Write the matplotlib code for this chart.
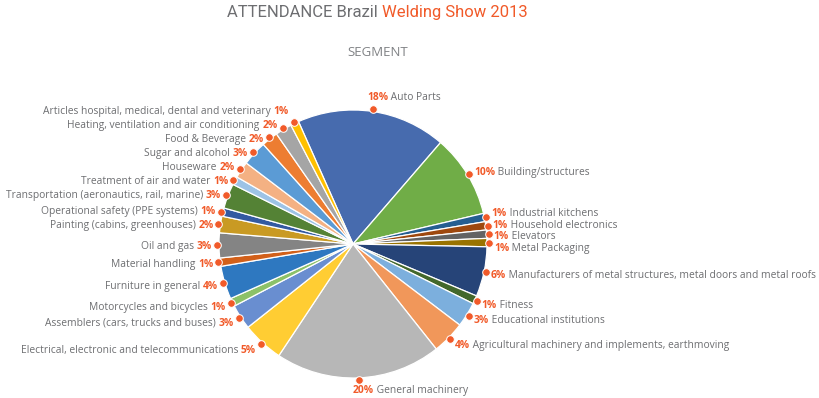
import numpy as np
import matplotlib
matplotlib.use("Agg")
import matplotlib.pyplot as plt

# Data (clockwise from the top)
segments = ["Auto Parts", "Building/structures", "Industrial kitchens", "Household electronics",
            "Elevators", "Metal Packaging",
            "Manufacturers of metal structures, metal doors and metal roofs", "Fitness",
            "Educational institutions", "Agricultural machinery and implements, earthmoving",
            "General machinery", "Electrical, electronic and telecommunications",
            "Assemblers (cars, trucks and buses)", "Motorcycles and bicycles",
            "Furniture in general", "Material handling", "Oil and gas",
            "Painting (cabins, greenhouses)", "Operational safety (PPE systems)",
            "Transportation (aeronautics, rail, marine)", "Treatment of air and water",
            "Houseware", "Sugar and alcohol", "Food & Beverage",
            "Heating, ventilation and air conditioning",
            "Articles hospital, medical, dental and veterinary"]
shares = [18, 10, 1, 1, 1, 1, 6, 1, 3, 4, 20, 5, 3, 1, 4, 1, 3, 2, 1, 3, 1, 2, 3, 2, 2, 1]
colors = ["#476BAE", "#70AD47", "#255E91", "#9E480E", "#636363", "#997300",
          "#264478", "#43682B", "#7CAFDD", "#F1975A", "#B7B7B7", "#FFCD33",
          "#698ED0", "#8CC168", "#2E78C0", "#D2601A", "#848484", "#C99A23",
          "#335AA1", "#548235", "#9DC3E6", "#F4B183", "#5B9BD5", "#ED7D31",
          "#A5A5A5", "#FFC000"]

title_gray = "ATTENDANCE Brazil "
title_orange = "Welding Show 2013"
subtitle = "SEGMENT"

GRAY = "#6D6E71"
ORANGE = "#F15A29"
LABEL_FONT = ["Open Sans", "DejaVu Sans"]
TITLE_FONT = ["Roboto", "DejaVu Sans"]

W, H = 820, 398
fig = plt.figure(figsize=(8.2, 3.98), dpi=100)
ax = fig.add_axes([0, 0, 1, 1])
cx, cy, R = 353, H - 244, 134

wedges, _ = ax.pie(shares, colors=colors, startangle=114, counterclock=False,
                   radius=R, center=(cx, cy),
                   wedgeprops=dict(edgecolor="white", linewidth=0.9))
ax.set_xlim(0, W)
ax.set_ylim(0, H)
ax.set_aspect("equal")
ax.axis("off")


def spread(vals, gap):
    # push overlapping labels apart, keeping each cluster centred on its targets
    blocks = []
    for v in vals:
        blocks.append([v])
        while len(blocks) > 1:
            a, b = blocks[-2], blocks[-1]
            pa = np.mean([t - i * gap for i, t in enumerate(a)])
            pb = np.mean([t - i * gap for i, t in enumerate(b)])
            if pa + gap * len(a) > pb:
                blocks[-2] = a + b
                blocks.pop()
            else:
                break
    out = []
    for blk in blocks:
        p = np.mean([t - i * gap for i, t in enumerate(blk)])
        out += [p + i * gap for i in range(len(blk))]
    return out


# dot positions and label targets
info = []
for i, w in enumerate(wedges):
    mid = np.deg2rad((w.theta1 + w.theta2) / 2)
    dx, dy = cx + (R + 2) * np.cos(mid), cy + (R + 2) * np.sin(mid)
    ax.plot(dx, dy, "o", color=ORANGE, ms=5.5, mec="white", mew=0.7, zorder=5)
    info.append(dict(i=i, c=np.cos(mid), s=np.sin(mid), x=dx, y=dy))

right = sorted([d for d in info if d["c"] >= 0.3], key=lambda d: -d["y"])
left = sorted([d for d in info if d["c"] <= -0.3], key=lambda d: -d["y"])
for side, gap in ((right, 11.5), (left, 14)):
    targets = [H - (d["y"] + (4 if d["s"] > 0 else 7) * d["s"]) + 1.5 for d in side]
    for d, t in zip(side, spread(targets, gap)):
        d["ly"] = H - t

renderer = fig.canvas.get_renderer()


def label(d):
    pct = f"{shares[d['i']]}%"
    name = segments[d["i"]]
    kw = dict(fontsize=7.4, family=LABEL_FONT, va="center")
    if abs(d["c"]) < 0.3:
        x0 = d["x"] - 6
        y0 = d["y"] + 12 if d["s"] > 0 else d["y"] - 11
        t = ax.text(x0, y0, pct, color=ORANGE, fontweight="bold", ha="left", **kw)
        x1 = t.get_window_extent(renderer).x1
        ax.text(x1, y0, " " + name, color=GRAY, ha="left", **kw)
    elif d["c"] > 0:
        x0 = d["x"] + 5
        t = ax.text(x0, d["ly"], pct, color=ORANGE, fontweight="bold", ha="left", **kw)
        x1 = t.get_window_extent(renderer).x1
        ax.text(x1, d["ly"], " " + name, color=GRAY, ha="left", **kw)
    else:
        x0 = d["x"] - 5
        t = ax.text(x0, d["ly"], pct, color=ORANGE, fontweight="bold", ha="right", **kw)
        x1 = t.get_window_extent(renderer).x0
        ax.text(x1, d["ly"], name + " ", color=GRAY, ha="right", **kw)


for d in info:
    label(d)

# title in two colours, centred
t1 = fig.text(0, 0, title_gray, color=GRAY, fontsize=12, family=TITLE_FONT)
t2 = fig.text(0, 0, title_orange, color=ORANGE, fontsize=12, family=TITLE_FONT)
w1 = t1.get_window_extent(renderer).width
w2 = t2.get_window_extent(renderer).width
start = 377 - (w1 + w2) / 2
t1.set_position((start / W, (H - 17) / H))
t2.set_position(((start + w1) / W, (H - 17) / H))

fig.text(378 / W, (H - 52) / H, subtitle, color="#808285", fontsize=9.5,
         family=LABEL_FONT, ha="center", va="center")

fig.savefig("out.png", dpi=100)
